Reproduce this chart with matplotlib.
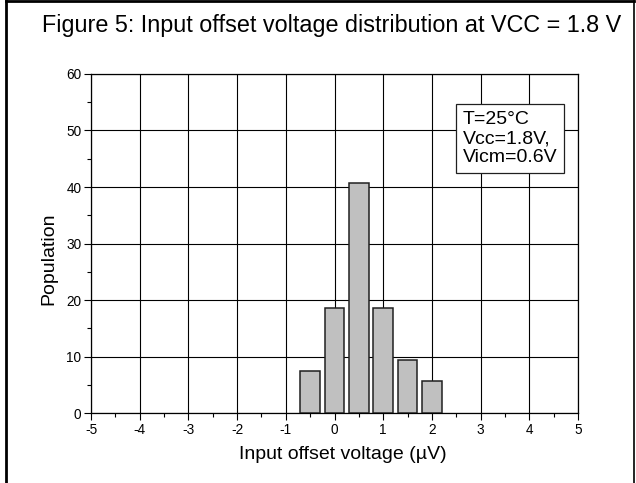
import matplotlib
matplotlib.use("Agg")
import matplotlib.pyplot as plt
from matplotlib.ticker import MultipleLocator
from matplotlib.lines import Line2D

plt.rcParams['font.family'] = ['Liberation Sans', 'DejaVu Sans']

# Data
bin_centers = [-0.5, 0.0, 0.5, 1.0, 1.5, 2.0]
population = [7.4, 18.5, 40.7, 18.5, 9.3, 5.6]
bar_width = 0.4
title = "Figure 5: Input offset voltage distribution at VCC = 1.8 V"
xlabel = "Input offset voltage (µV)"
ylabel = "Population"
note = "T=25°C\nVcc=1.8V,\nVicm=0.6V"

fig = plt.figure(figsize=(6.36, 4.83), dpi=100)
ax = fig.add_axes([0.1431, 0.1449, 0.7657, 0.7019])

ax.bar(bin_centers, population, width=bar_width, color='#c0c0c0',
       edgecolor='#202020', linewidth=1.1, zorder=3)

ax.set_xlim(-5, 5)
ax.set_ylim(0, 60)
ax.xaxis.set_major_locator(MultipleLocator(1))
ax.xaxis.set_minor_locator(MultipleLocator(0.5))
ax.yaxis.set_major_locator(MultipleLocator(10))
ax.yaxis.set_minor_locator(MultipleLocator(5))
ax.set_xticks(range(-5, 6))
ax.set_xticklabels([str(v) for v in range(-5, 6)])
ax.grid(True, which='major', color='black', linewidth=0.8, zorder=0)
ax.set_axisbelow(True)
ax.tick_params(which='major', direction='out', length=5, width=0.8,
               labelsize=9.8, pad=2)
ax.tick_params(which='minor', direction='out', length=3, width=0.8)
ax.tick_params(axis='x', which='both', top=False)
ax.tick_params(axis='y', which='both', right=False)
for s in ax.spines.values():
    s.set_linewidth(0.9)

ax.set_xlabel(xlabel, fontsize=14)
ax.set_ylabel(ylabel, fontsize=14)
ax.xaxis.set_label_coords(0.518, -0.098)
ax.yaxis.set_label_coords(-0.069, 0.454)

ax.text(2.64, 53.4, note, fontsize=14, va='top', ha='left',
        linespacing=1.15, zorder=5,
        bbox=dict(boxstyle='square,pad=0.35', facecolor='white',
                  edgecolor='#202020', linewidth=0.9))

fig.text(0.521, 0.948, title, fontsize=16.8, ha='center', va='center')

# outer frame lines (left, top, right)
fig.add_artist(Line2D([0.0094, 0.0094], [0.0, 0.997], transform=fig.transFigure,
                      color='black', linewidth=2.0))
fig.add_artist(Line2D([0.0094, 0.997], [0.997, 0.997], transform=fig.transFigure,
                      color='black', linewidth=2.0))
fig.add_artist(Line2D([0.997, 0.997], [0.0, 0.997], transform=fig.transFigure,
                      color='black', linewidth=1.2))

fig.savefig("out.png", dpi=100)
